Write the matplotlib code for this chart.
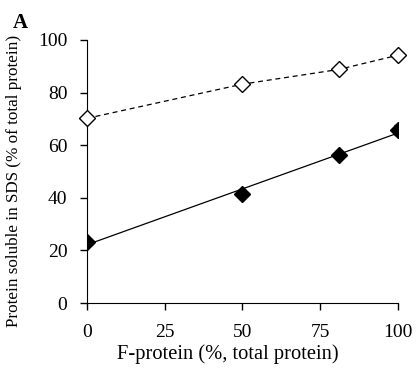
import matplotlib
matplotlib.use('Agg')
import matplotlib.pyplot as plt
import numpy as np

plt.rcParams['font.family'] = 'Liberation Serif'

f_protein = [0, 50, 81, 100]
open_vals = [70.2, 83.2, 88.8, 94.2]
filled_vals = [23.1, 41.6, 56.3, 65.7]
filled_err = [0.0, 0.0, 0.0, 1.8]

fig = plt.figure(figsize=(4.18, 3.7), dpi=100)
ax = fig.add_axes([0.208, 0.181, 0.744, 0.711])

x = np.array(f_protein)
# dashed line through open markers, solid linear trend for filled ones
ax.plot(x, open_vals, color='black', ls=(0, (4, 3)), lw=0.9, zorder=2)
k, b = np.polyfit(x, filled_vals, 1)
ax.plot([0, 100], [b, k * 100 + b], color='black', lw=0.9, zorder=2)

ax.errorbar(x, filled_vals, yerr=filled_err, fmt='D', color='black', ms=8,
            ecolor='black', elinewidth=0.9, capsize=3, zorder=3)
ax.plot(x, open_vals, 'D', mfc='white', mec='black', mew=1.0, ms=8, zorder=3,
        clip_on=False)

ax.set_xlim(0, 100)
ax.set_ylim(0, 100)
ax.set_xticks([0, 25, 50, 75, 100])
ax.set_yticks(np.arange(0, 101, 20))
ax.spines['top'].set_visible(False)
ax.spines['right'].set_visible(False)
ax.tick_params(direction='out', length=5, width=1, labelsize=14)
ax.tick_params(axis='x', pad=10)
ax.tick_params(axis='y', pad=9)
ax.set_xlabel('F-protein (%, total protein)', fontsize=14.8)
ax.set_ylabel('Protein soluble in SDS (% of total protein)', fontsize=12.3)
ax.xaxis.set_label_coords(0.453, -0.155)
ax.yaxis.set_label_coords(-0.21, 0.464)

fig.text(0.03, 0.965, 'A', fontsize=15, fontweight='bold', va='top', ha='left')

fig.savefig('out.png', dpi=100)
